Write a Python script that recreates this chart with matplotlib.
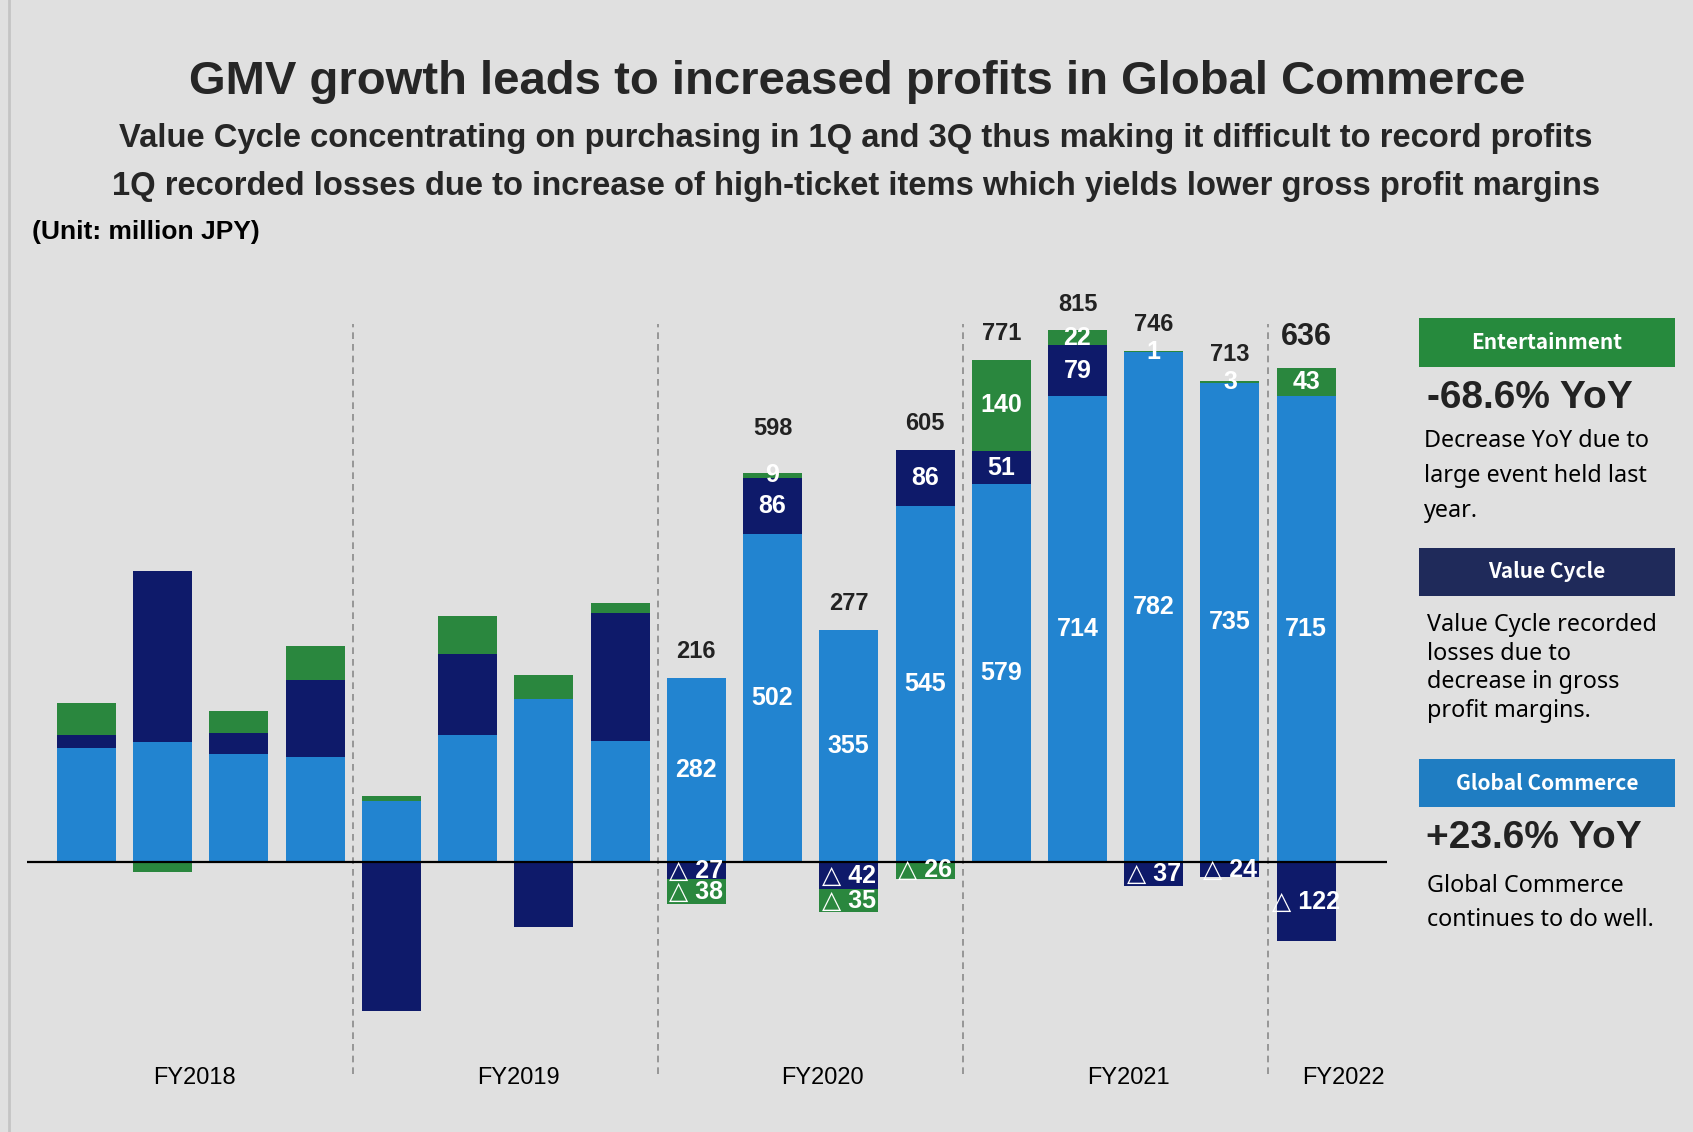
"""
Global Commerce segment profit by quarter, stacked by business line.
"""

import matplotlib
matplotlib.use('Agg')
import matplotlib.pyplot as plt
from matplotlib.patches import Rectangle
from matplotlib.lines import Line2D

# ---- data (million JPY), FY2018 Q1 .. FY2022 Q1 ----
global_commerce = [174, 183, 165, 161, 93, 195, 250, 186,
                   282, 502, 355, 545, 579, 714, 782, 735, 715]
value_cycle = [21, 263, 33, 118, -229, 123, -100, 196,
               -27, 86, -42, 86, 51, 79, -37, -24, -122]
entertainment = [48, -15, 34, 52, 8, 59, 37, 15,
                 -38, 9, -35, -26, 140, 22, 1, 3, 43]
totals = [None] * 8 + [216, 598, 277, 605, 771, 815, 746, 713, 636]
fiscal_years = ['FY2018', 'FY2019', 'FY2020', 'FY2021', 'FY2022']
year_label_x = [1.41, 5.67, 9.65, 13.67, 16.49]
year_breaks = [3.5, 7.5, 11.5, 15.5]

GC_COLOR = '#2284D0'
VC_COLOR = '#0E1A6A'
ENT_COLOR = '#2A873E'
BG = '#E0E0E0'
DARK = '#222222'
FONT = ['Liberation Sans', 'DejaVu Sans']

W, H = 1693, 1132


def fx(x):
    return x / W


def fy(y):
    return 1 - y / H


fig = plt.figure(figsize=(W / 100, H / 100), dpi=100, facecolor=BG)
plt.rcParams['font.family'] = FONT

ax = fig.add_axes([fx(27), fy(1090), fx(1387 - 27), (1090 - 260) / H])
ax.set_facecolor(BG)
ax.set_xlim(-0.78, 17.06)
ax.set_ylim(-350, 923)
ax.axis('off')

width = 0.774
xs = list(range(len(global_commerce)))
series = [(global_commerce, GC_COLOR), (value_cycle, VC_COLOR), (entertainment, ENT_COLOR)]

pos_top = [0.0] * len(xs)
neg_bot = [0.0] * len(xs)
seg_labels = []  # (x, y_center, value)
for vals, color in series:
    for i, v in enumerate(vals):
        if v >= 0:
            base = pos_top[i]
            pos_top[i] += v
        else:
            base = neg_bot[i] + v
            neg_bot[i] += v
        ax.bar(i, abs(v), bottom=base, width=width, color=color, zorder=3)
        if totals[i] is not None:
            seg_labels.append((i, base + abs(v) / 2, v))

for i, yc, v in seg_labels:
    txt = str(v) if v >= 0 else '\u25b3 ' + str(abs(v))
    ax.text(i, yc, txt, ha='center', va='center', color='white',
            fontsize=18, fontweight='bold', family=FONT, zorder=5)

# totals above the bars
extra = {9: 13}
for i, t in enumerate(totals):
    if t is None:
        continue
    big = i == len(totals) - 1
    ax.annotate(str(t), xy=(i, pos_top[i]), xytext=(0, 19 + extra.get(i, 0) + (3 if big else 0)),
                textcoords='offset points', ha='center', va='center',
                fontsize=22 if big else 17, fontweight='bold', color=DARK, zorder=5)

ax.axhline(0, color='black', linewidth=1.6, zorder=4)

for xb in year_breaks:
    ax.plot([xb, xb], [-325, 825], color='#8A8A8A', linestyle=(0, (4, 3)),
            linewidth=1.2, zorder=2)

for xl, lab in zip(year_label_x, fiscal_years):
    ax.text(xl, (862 - 1078) / 0.652, lab, ha='center', va='center',
            fontsize=17, color='black')

# ---- titles ----
fig.text(fx(857), fy(82), 'GMV growth leads to increased profits in Global Commerce',
         ha='center', va='center', fontsize=34, fontweight='bold', color='#262626')
fig.text(fx(856), fy(139),
         'Value Cycle concentrating on purchasing in 1Q and 3Q thus making it difficult to record profits',
         ha='center', va='center', fontsize=23.6, fontweight='bold', color='#262626')
fig.text(fx(856), fy(186),
         '1Q recorded losses due to increase of high-ticket items which yields lower gross profit margins',
         ha='center', va='center', fontsize=23.6, fontweight='bold', color='#262626')
fig.text(fx(32), fy(232), '(Unit: million JPY)', ha='left', va='center',
         fontsize=19, fontweight='bold', color='black')

# left border
fig.add_artist(Line2D([fx(9), fx(9)], [0, 1], color='#C4C4C4', linewidth=2))

# ---- right-hand panel ----
PANEL = ['Noto Sans', 'DejaVu Sans']
HEAD = ['Noto Sans CJK JP', 'DejaVu Sans']
boxes = [('Entertainment', '#268A3D', 318, 367),
         ('Value Cycle', '#1F2A5A', 548, 596),
         ('Global Commerce', '#1F7DC2', 759, 807)]
for name, color, y0, y1 in boxes:
    fig.add_artist(Rectangle((fx(1419), fy(y1)), fx(1675 - 1419), (y1 - y0) / H,
                             transform=fig.transFigure, facecolor=color, edgecolor='none'))
    fig.text(fx(1547), fy((y0 + y1) / 2), name, ha='center', va='center',
             fontsize=15, fontweight='bold', color='white', family=HEAD)

fig.text(fx(1427), fy(398), '-68.6% YoY', ha='left', va='center',
         fontsize=28, fontweight='bold', color=DARK)
fig.text(fx(1424), fy(476), 'Decrease YoY due to\nlarge event held last\nyear.',
         ha='left', va='center', fontsize=16.8, color='black', family=PANEL, linespacing=1.62)
fig.text(fx(1427), fy(668), 'Value Cycle recorded\nlosses due to\ndecrease in gross\nprofit margins.',
         ha='left', va='center', fontsize=16.8, color='black', family=PANEL, linespacing=1.25)
fig.text(fx(1426), fy(838), '+23.6% YoY', ha='left', va='center',
         fontsize=28, fontweight='bold', color=DARK)
fig.text(fx(1427), fy(903), 'Global Commerce\ncontinues to do well.',
         ha='left', va='center', fontsize=16.8, color='black', family=PANEL, linespacing=1.6)

fig.savefig('out.png', dpi=100, facecolor=BG)
plt.close(fig)
